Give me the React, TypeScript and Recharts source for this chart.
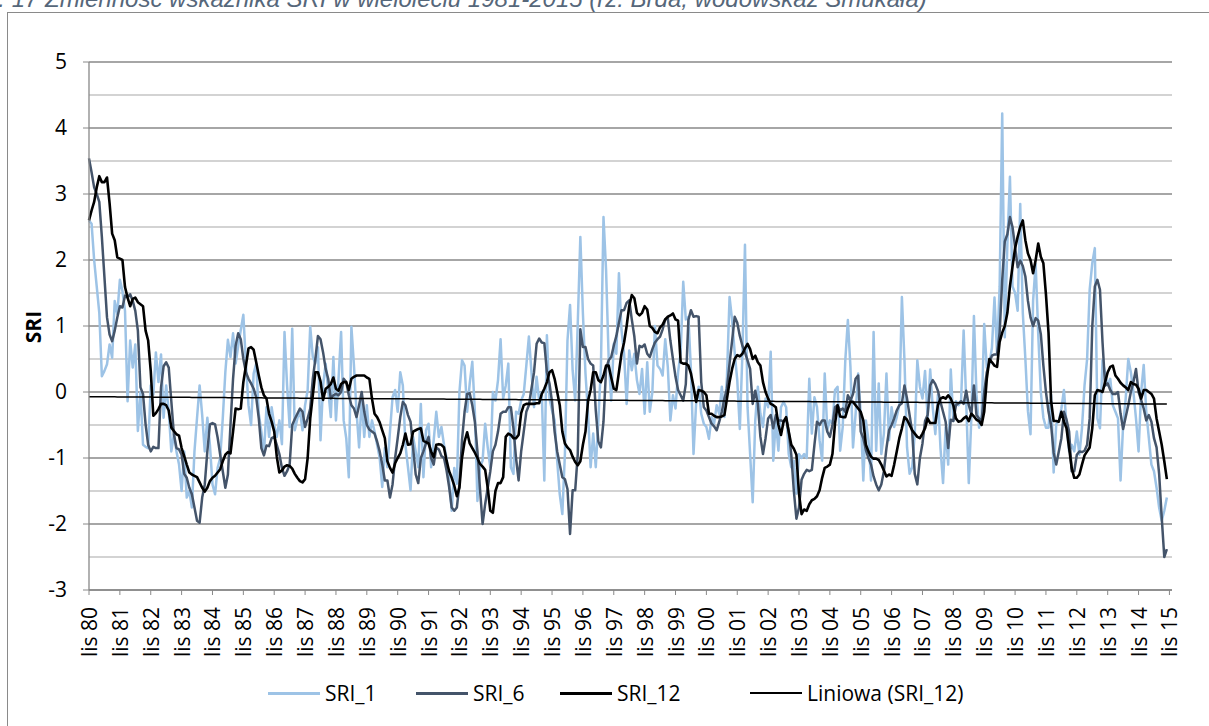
import React from 'react'
import { LineChart, Line, XAxis, YAxis, CartesianGrid } from 'recharts'

// tick labels, one per hydrological year (November)
const tickLabels = [
  'lis 80', 'lis 81', 'lis 82', 'lis 83', 'lis 84', 'lis 85', 'lis 86', 'lis 87', 'lis 88',
  'lis 89', 'lis 90', 'lis 91', 'lis 92', 'lis 93', 'lis 94', 'lis 95', 'lis 96', 'lis 97',
  'lis 98', 'lis 99', 'lis 00', 'lis 01', 'lis 02', 'lis 03', 'lis 04', 'lis 05', 'lis 06',
  'lis 07', 'lis 08', 'lis 09', 'lis 10', 'lis 11', 'lis 12', 'lis 13', 'lis 14', 'lis 15',
]

const yTicks = [-3, -2, -1, 0, 1, 2, 3, 4, 5]
const halfTicks = [-2.5, -1.5, -0.5, 0.5, 1.5, 2.5, 3.5, 4.5]

// monthly values, one row = one year (Nov..Oct)
const sri1 = [
  2.6, 2.55, 2.0, 1.6, 1.2, 0.24, 0.32, 0.42, 0.72, 0.52, 1.38, 1.18,
  1.7, 1.53, 1.23, -0.14, 0.78, 0.37, 0.72, -0.59, 0.0, -0.8, -0.83, -0.85,
  0.1, -0.04, 0.6, 0.15, 0.57, -0.39, 0.1, -0.29, -0.9, -0.64, -0.9, -1.1,
  -1.5, -0.9, -1.6, -1.5, -1.75, -0.9, -0.39, 0.1, -0.35, -0.9, -0.39, -0.8,
  -1.4, -1.55, -1.15, -1.0, -0.4, 0.3, 0.79, 0.53, 0.89, 0.43, 0.7, 0.94,
  1.17, 0.43, -0.2, -0.5, 0.28, 0.43, -0.33, -0.6, -0.94, -0.23, -0.68, -0.23,
  -0.5, -0.68, -0.43, -0.79, 0.91, 0.1, -0.53, 0.96, -0.58, -0.4, -0.28, -0.58,
  -0.2, 0.03, 0.99, 0.53, 0.43, 0.68, -0.73, 0.1, 0.43, 0.03, -0.38, 0.53,
  -0.43, 0.2, 0.91, -0.43, -0.7, -1.29, 0.99, 0.4, -0.3, -0.84, -0.1, -0.68,
  -0.2, -0.68, -0.43, -0.6, -0.8, -1.0, -1.44, -0.85, -1.14, -0.6, -0.08, 0.03,
  -0.3, 0.3, 0.1, -0.8, -1.14, -1.49, -0.68, -0.9, -1.14, -0.18, -1.29, -0.58,
  -0.48, -1.14, -0.73, -0.3, -0.68, -0.53, -0.8, -1.0, -1.34, -1.8, -1.15, -1.39,
  0.0, 0.48, 0.4, -0.3, 0.13, 0.46, -0.3, -1.65, -1.14, -1.04, -0.48, -0.84,
  -1.14, 0.0, -0.13, 0.18, 0.8, -0.1, 0.1, 0.43, -1.14, -1.24, -0.3, -0.33,
  -0.13, -0.03, 0.4, 0.84, 0.3, -0.23, 0.23, -0.13, 0.0, -1.34, 0.86, -0.1,
  -0.28, -0.43, -1.04, -1.55, -1.85, -0.94, 0.78, 1.32, 0.33, -0.13, 1.04, 2.35,
  1.19, 0.28, -0.33, -1.14, -0.63, -1.14, -0.43, 0.38, 2.65, 1.85, 0.53, -0.13,
  0.73, 0.58, 1.8, 0.94, 0.58, -0.18, 0.63, 0.33, 0.58, 0.18, -0.03, 0.35,
  -0.33, 0.45, -0.3, 0.0, 1.0, 0.4, 0.35, 0.25, 0.8, 0.38, -0.43, -0.05,
  -0.25, 0.3, 0.6, 1.67, 1.1, 1.14, 0.33, -0.94, -0.18, 0.08, -0.33, -0.48,
  -0.53, -0.71, -0.38, -0.48, -0.2, -0.33, 0.08, -0.38, 0.23, 1.44, 1.09, 0.6,
  0.18, -0.56, 0.58, 2.23, -0.23, -0.94, -1.67, -0.43, 0.08, -0.33, -0.53, -0.1,
  -0.23, 0.61, -1.04, -0.43, -0.89, -0.23, -0.15, -0.23, -0.94, -1.14, -1.04, -1.54,
  -0.94, -1.0, -0.94, -1.0, 0.2, -0.63, -0.08, -0.23, -0.73, -1.04, 0.28, -0.58,
  -0.43, -0.48, 0.03, 0.08, -0.89, -0.53, 0.48, 1.09, 0.38, -0.84, -0.33, 0.28,
  -0.33, -1.34, -0.43, -0.73, -1.34, 0.91, -0.89, 0.13, -0.94, -0.63, 0.28, -0.73,
  -0.23, -0.53, -0.38, -0.2, 1.44, 0.48, -0.84, -1.24, -1.14, -0.63, 0.48, 0.08,
  -0.1, 0.32, -0.39, 0.34, -0.24, -0.64, -0.04, -0.85, -1.38, -0.54, -1.1, 0.34,
  -0.44, -0.14, -0.2, -0.14, 0.93, -0.14, -1.38, -0.39, 1.15, -0.04, -0.54, -0.34,
  1.03, 0.37, 0.42, 0.67, 1.43, 0.58, 1.6, 4.22, 0.83, 2.24, 3.26, 1.6,
  1.5, 1.23, 2.85, 1.2, 0.5, -0.29, -0.64, 1.38, 1.94, 0.88, 0.0, -0.39,
  -0.54, -0.54, -0.04, -1.22, -0.49, -0.44, -0.25, 0.03, -0.5, -0.9, -0.8, -0.9,
  -0.6, -0.95, -0.55, 0.1, 0.5, 1.55, 1.95, 2.18, -0.4, -0.55, 0.48, 0.28,
  0.1, 0.2, -0.2, -0.3, -0.4, -1.34, -0.5, -0.1, 0.5, 0.3, 0.0, -0.4,
  -0.9, 0.0, 0.41, -0.3, -0.7, -1.1, -1.2, -1.45, -1.75, -1.95, -1.8, -1.6,
]

const sri6 = [
  3.54, 3.33, 3.1, 3.0, 2.88, 2.35, 1.74, 1.13, 0.87, 0.77, 0.93, 1.13,
  1.3, 1.28, 1.46, 1.43, 1.48, 1.38, 1.23, 0.93, 0.07, -0.03, -0.49, -0.8,
  -0.9, -0.83, -0.85, -0.85, 0.07, 0.39, 0.45, 0.37, -0.14, -0.64, -0.85, -0.87,
  -0.95, -1.24, -1.3, -1.45, -1.55, -1.75, -1.95, -1.98, -1.6, -1.4, -0.9, -0.49,
  -0.47, -0.49, -0.69, -0.95, -1.2, -1.45, -1.25, -0.5, 0.2, 0.7, 0.89, 0.8,
  0.5, 0.3, 0.2, 0.13, 0.05, -0.08, -0.4, -0.85, -0.96, -0.81, -0.82, -0.7,
  -0.68, -0.8, -0.94, -1.15, -1.27, -1.2, -1.1, -0.5, -0.41, -0.33, -0.25, -0.3,
  -0.53, -0.4, -0.25, 0.2, 0.5, 0.85, 0.8, 0.6, 0.35, 0.2, -0.1, -0.05,
  -0.03, -0.05, 0.0, 0.2, 0.15, -0.05, -0.2, -0.25, -0.38, -0.2, 0.0, -0.3,
  -0.5, -0.57, -0.6, -0.63, -0.75, -0.9, -1.1, -1.34, -1.34, -1.6, -1.4, -1.0,
  -0.7, -0.38, -0.15, -0.2, -0.35, -0.45, -0.85, -1.25, -1.38, -1.0, -0.9, -0.78,
  -0.68, -1.0, -1.1, -0.84, -0.87, -0.97, -1.0, -1.19, -1.44, -1.75, -1.8, -1.75,
  -1.4, -0.73, -0.3, -0.03, -0.02, -0.2, -0.45, -0.9, -1.47, -2.0, -1.7, -1.45,
  -1.2, -0.9, -0.8, -0.6, -0.33, -0.3, -0.3, -0.23, -0.23, -0.55, -1.0, -1.34,
  -0.9, -0.6, -0.3, -0.2, 0.05, 0.3, 0.73, 0.81, 0.75, 0.74, 0.3, 0.13,
  -0.15, -0.6, -0.9, -1.1, -1.29, -1.32, -1.47, -2.15, -1.49, -1.49, -0.94, 0.95,
  0.68, 0.68, 0.5, 0.43, 0.4, -0.28, -0.75, -0.84, -0.45, 0.35, 0.48, 0.53,
  0.7, 0.85, 1.05, 1.24, 1.24, 1.35, 1.39, 1.1, 0.84, 0.43, 0.7, 0.68,
  0.72, 0.58, 0.53, 0.65, 0.75, 0.8, 0.84, 0.95, 1.1, 1.12, 0.78, 0.5,
  0.23, 0.03, -0.05, -0.13, 0.12, 1.09, 1.24, 1.14, 1.15, 1.14, 0.15, -0.23,
  -0.28, -0.38, -0.48, -0.52, -0.58, -0.45, -0.3, -0.1, 0.05, 0.43, 0.78, 1.14,
  1.05, 0.85, 0.7, 0.6, 0.48, 0.35, -0.18, 0.02, -0.18, -0.68, -0.94, -0.7,
  -0.4, -0.35, -0.55, -0.35, -0.43, -0.43, -0.45, -0.4, -0.6, -0.95, -1.5, -1.92,
  -1.75, -1.33, -1.24, -1.18, -1.2, -1.18, -0.8, -0.45, -0.5, -0.43, -0.43, -0.6,
  -0.68, -0.5, -0.23, -0.2, -0.28, -0.25, -0.3, -0.05, -0.13, -0.03, 0.2, 0.25,
  -0.6, -0.7, -0.88, -1.0, -1.1, -1.28, -1.4, -1.49, -1.4, -1.2, -0.85, -0.58,
  -0.5, -0.4, -0.28, -0.2, -0.17, 0.1, -0.1, -0.35, -0.6, -1.24, -1.4, -1.0,
  -0.78, -0.44, -0.35, 0.1, 0.18, 0.12, 0.02, -0.15, -0.3, -0.45, -0.85, -0.42,
  -0.44, -0.2, -0.17, -0.14, -0.18, 0.02, -0.2, -0.33, 0.1, -0.35, -0.4, -0.44,
  0.0, 0.3, 0.45, 0.55, 0.57, 0.57, 0.9, 1.7, 2.28, 2.39, 2.65, 2.5,
  2.2, 1.89, 1.99, 1.91, 1.75, 1.38, 1.13, 1.0, 1.12, 1.08, 0.88, 0.4,
  0.0, -0.3, -0.5, -0.92, -1.1, -0.9, -0.7, -0.3, -0.42, -0.6, -1.2, -1.2,
  -0.95, -0.9, -0.91, -0.89, -0.8, -0.4, 0.99, 1.6, 1.7, 1.55, 0.75, 0.1,
  0.13, 0.03, -0.03, -0.03, 0.0, -0.33, -0.56, -0.38, -0.2, 0.0, 0.15, 0.35,
  0.0, -0.12, -0.25, -0.43, -0.35, -0.45, -0.7, -0.84, -1.24, -1.9, -2.5, -2.38,
]

const sri12 = [
  2.6, 2.75, 2.88, 3.1, 3.27, 3.18, 3.18, 3.25, 2.86, 2.4, 2.3, 2.04,
  2.02, 2.0, 1.59, 1.43, 1.3, 1.41, 1.43, 1.36, 1.33, 1.3, 0.93, 0.78,
  0.32, -0.36, -0.32, -0.26, -0.18, -0.18, -0.2, -0.28, -0.54, -0.59, -0.64, -0.66,
  -0.85, -0.97, -1.1, -1.22, -1.25, -1.27, -1.29, -1.37, -1.45, -1.51, -1.45, -1.35,
  -1.3, -1.27, -1.22, -1.17, -1.05, -0.95, -0.91, -0.93, -0.6, -0.25, -0.26, -0.25,
  0.15, 0.4, 0.66, 0.68, 0.64, 0.45, 0.25, 0.07, -0.05, -0.1, -0.33, -0.45,
  -0.6, -0.98, -1.22, -1.19, -1.13, -1.11, -1.12, -1.16, -1.24, -1.3, -1.35, -1.37,
  -1.32, -1.0, -0.4, -0.05, 0.3, 0.3, 0.16, -0.12, 0.05, 0.08, 0.12, 0.22,
  0.05, 0.02, 0.12, 0.15, 0.15, 0.03, 0.2, 0.23, 0.25, 0.25, 0.25, 0.25,
  0.22, 0.2, -0.1, -0.33, -0.38, -0.46, -0.58, -0.7, -1.05, -1.15, -1.22, -1.08,
  -1.0, -0.93, -0.8, -0.63, -0.8, -0.79, -0.6, -0.58, -0.56, -0.55, -0.74, -0.76,
  -0.78, -0.9, -0.99, -0.8, -0.79, -0.8, -0.84, -1.04, -1.2, -1.3, -1.42, -1.58,
  -1.45, -1.0, -0.75, -0.61, -0.78, -0.85, -0.92, -1.0, -1.09, -1.13, -1.18, -1.45,
  -1.8, -1.83, -1.5, -1.38, -1.38, -1.29, -0.68, -0.63, -0.65, -0.7, -0.7, -0.65,
  -0.32, -0.2, -0.18, -0.18, -0.18, -0.18, -0.17, -0.17, -0.03, 0.05, 0.15, 0.3,
  0.33, 0.2, 0.0, -0.2, -0.6, -0.78, -0.84, -0.88, -0.98, -1.06, -1.11, -1.05,
  -0.8, -0.6, -0.13, 0.03, 0.3, 0.3, 0.18, 0.15, 0.25, 0.4, 0.4, 0.22,
  0.05, 0.03, 0.3, 0.58, 0.75, 1.0, 1.3, 1.47, 1.42, 1.2, 1.16, 1.2,
  1.3, 1.25, 1.0, 0.97, 0.91, 0.89, 0.98, 1.02, 1.1, 1.14, 1.16, 1.19,
  1.1, 1.08, 0.45, 0.43, 0.43, 0.4, 0.28, 0.08, -0.15, 0.03, 0.02, 0.0,
  -0.05, -0.33, -0.33, -0.36, -0.38, -0.38, -0.37, -0.35, -0.1, 0.15, 0.35, 0.5,
  0.56, 0.54, 0.58, 0.66, 0.73, 0.65, 0.5, 0.55, 0.45, 0.4, 0.15, 0.0,
  -0.1, -0.18, -0.2, -0.23, -0.5, -0.65, -0.45, -0.38, -0.6, -0.8, -0.86, -0.95,
  -1.54, -1.85, -1.78, -1.8, -1.7, -1.64, -1.62, -1.58, -1.49, -1.3, -1.15, -1.13,
  -1.1, -0.94, -0.48, -0.2, -0.37, -0.38, -0.38, -0.25, -0.15, -0.15, -0.2, -0.25,
  -0.3, -0.43, -0.8, -0.9, -0.98, -1.01, -1.01, -1.03, -1.1, -1.19, -1.28, -1.25,
  -1.27, -1.1, -0.9, -0.7, -0.55, -0.38, -0.42, -0.5, -0.58, -0.63, -0.68, -0.7,
  -0.63, -0.55, -0.4, -0.47, -0.47, -0.47, -0.2, -0.1, -0.08, -0.1, -0.05, -0.1,
  -0.2, -0.4, -0.45, -0.44, -0.4, -0.37, -0.44, -0.33, -0.37, -0.42, -0.44, -0.5,
  -0.3, 0.2, 0.5, 0.45, 0.4, 0.38, 0.76, 0.9, 1.0, 1.2, 1.6, 1.9,
  2.18, 2.35, 2.5, 2.6, 2.3, 2.1, 2.0, 1.8, 2.0, 2.25, 2.05, 1.95,
  1.48, 0.9, -0.14, -0.44, -0.44, -0.45, -0.3, -0.45, -0.55, -0.85, -1.15, -1.3,
  -1.3, -1.25, -1.1, -0.96, -0.9, -0.84, -0.55, -0.05, 0.03, 0.02, 0.0, 0.15,
  0.3, 0.38, 0.4, 0.25, 0.2, 0.14, 0.1, 0.07, 0.03, 0.15, 0.12, 0.11,
  0.05, -0.1, 0.03, 0.03, 0.0, -0.03, -0.1, -0.4, -0.6, -0.8, -1.05, -1.32,
]

// linear trendline of SRI_12 (least squares, like Excel's "Liniowa")
const n = sri12.length
const meanX = (n - 1) / 2
const meanY = sri12.reduce((s, v) => s + v, 0) / n
let sxy = 0
let sxx = 0
sri12.forEach((v, i) => {
  sxy += (i - meanX) * (v - meanY)
  sxx += (i - meanX) * (i - meanX)
})
const slope = sxy / sxx
const intercept = meanY - slope * meanX

const data = sri1.map((v, i) => ({
  t: i,
  sri1: v,
  sri6: sri6[i],
  sri12: sri12[i],
  trend: intercept + slope * i,
}))

const xTicks = tickLabels.map((_, i) => i * 12)

const FONT = '"Open Sans", "DejaVu Sans", sans-serif'

function RotatedTick({ x, y, payload }: any) {
  return (
    <text
      x={x}
      y={y}
      transform={`rotate(-90, ${x}, ${y})`}
      textAnchor="end"
      dominantBaseline="central"
      fontFamily={FONT}
      fontSize={21}
      fill="#000"
    >
      {tickLabels[Math.round(payload.value / 12)]}
    </text>
  )
}

const legendItems = [
  { name: 'SRI_1', color: '#9DC3E6', width: 3, lineX: 268, textX: 325 },
  { name: 'SRI_6', color: '#44546A', width: 3, lineX: 416, textX: 473 },
  { name: 'SRI_12', color: '#000000', width: 3, lineX: 560, textX: 617 },
  { name: 'Liniowa (SRI_12)', color: '#000000', width: 1.5, lineX: 750, textX: 807 },
]

export default function App() {
  return (
    <div
      style={{
        position: 'absolute',
        left: 0,
        top: 0,
        width: 1209,
        height: 726,
        overflow: 'hidden',
        background: '#fff',
      }}
    >
      <div
        style={{
          position: 'absolute',
          left: 7,
          top: 12,
          width: 1260,
          height: 800,
          border: '1px solid #8a8a8a',
        }}
      />
      <svg width={1209} height={30} style={{ position: 'absolute', left: 0, top: 0 }}>
        <text
          x={-43}
          y={7}
          fontFamily='"Liberation Sans", Arial, sans-serif'
          fontStyle="italic"
          fontSize={24}
          fill="#56677a"
        >
          Rys. 17 Zmienność wskaźnika SRI w wieloleciu 1981-2015 (rz. Brda, wodowskaz Smukała)
        </text>
      </svg>

      <div style={{ position: 'absolute', left: 0, top: 0 }}>
        <LineChart
          width={1209}
          height={726}
          data={data}
          margin={{ top: 62, right: 37, bottom: 76, left: 29 }}
        >
          <CartesianGrid
            vertical={false}
            horizontalValues={halfTicks}
            stroke="#c4c4c4"
            strokeWidth={1.3}
          />
          <CartesianGrid vertical={false} stroke="#888888" strokeWidth={1.3} />
          <XAxis
            dataKey="t"
            type="number"
            domain={[0, 421]}
            ticks={xTicks}
            interval={0}
            height={60}
            tickSize={5}
            tickMargin={12}
            axisLine={{ stroke: '#888888', strokeWidth: 1.3 }}
            tickLine={{ stroke: '#888888' }}
            tick={<RotatedTick />}
          />
          <YAxis
            type="number"
            domain={[-3, 5]}
            ticks={yTicks}
            interval={0}
            width={60}
            tickSize={6}
            tickMargin={16}
            axisLine={{ stroke: '#888888', strokeWidth: 1.3 }}
            tickLine={{ stroke: '#888888' }}
            tick={{ fontFamily: FONT, fontSize: 21, fill: '#000' }}
          />
          <Line
            type="linear"
            dataKey="sri1"
            stroke="#9DC3E6"
            strokeWidth={2.5}
            dot={false}
            strokeLinejoin="round"
            isAnimationActive={false}
          />
          <Line
            type="linear"
            dataKey="sri6"
            stroke="#44546A"
            strokeWidth={2.5}
            dot={false}
            strokeLinejoin="round"
            isAnimationActive={false}
          />
          <Line
            type="linear"
            dataKey="sri12"
            stroke="#000000"
            strokeWidth={2.6}
            dot={false}
            strokeLinejoin="round"
            isAnimationActive={false}
          />
          <Line
            type="linear"
            dataKey="trend"
            stroke="#000000"
            strokeWidth={1.5}
            dot={false}
            isAnimationActive={false}
          />
        </LineChart>
      </div>

      <div
        style={{
          position: 'absolute',
          left: 33,
          top: 327,
          transform: 'translate(-50%, -50%) rotate(-90deg)',
          fontFamily: FONT,
          fontWeight: 700,
          fontSize: 21,
          whiteSpace: 'nowrap',
        }}
      >
        SRI
      </div>

      {legendItems.map((item) => (
        <React.Fragment key={item.name}>
          <div
            style={{
              position: 'absolute',
              left: item.lineX,
              top: 693 - item.width / 2,
              width: 52,
              height: item.width,
              background: item.color,
            }}
          />
          <div
            style={{
              position: 'absolute',
              left: item.textX,
              top: 693,
              transform: 'translateY(-50%)',
              fontFamily: FONT,
              fontSize: 21,
              lineHeight: 1,
              whiteSpace: 'nowrap',
            }}
          >
            {item.name}
          </div>
        </React.Fragment>
      ))}
    </div>
  )
}
